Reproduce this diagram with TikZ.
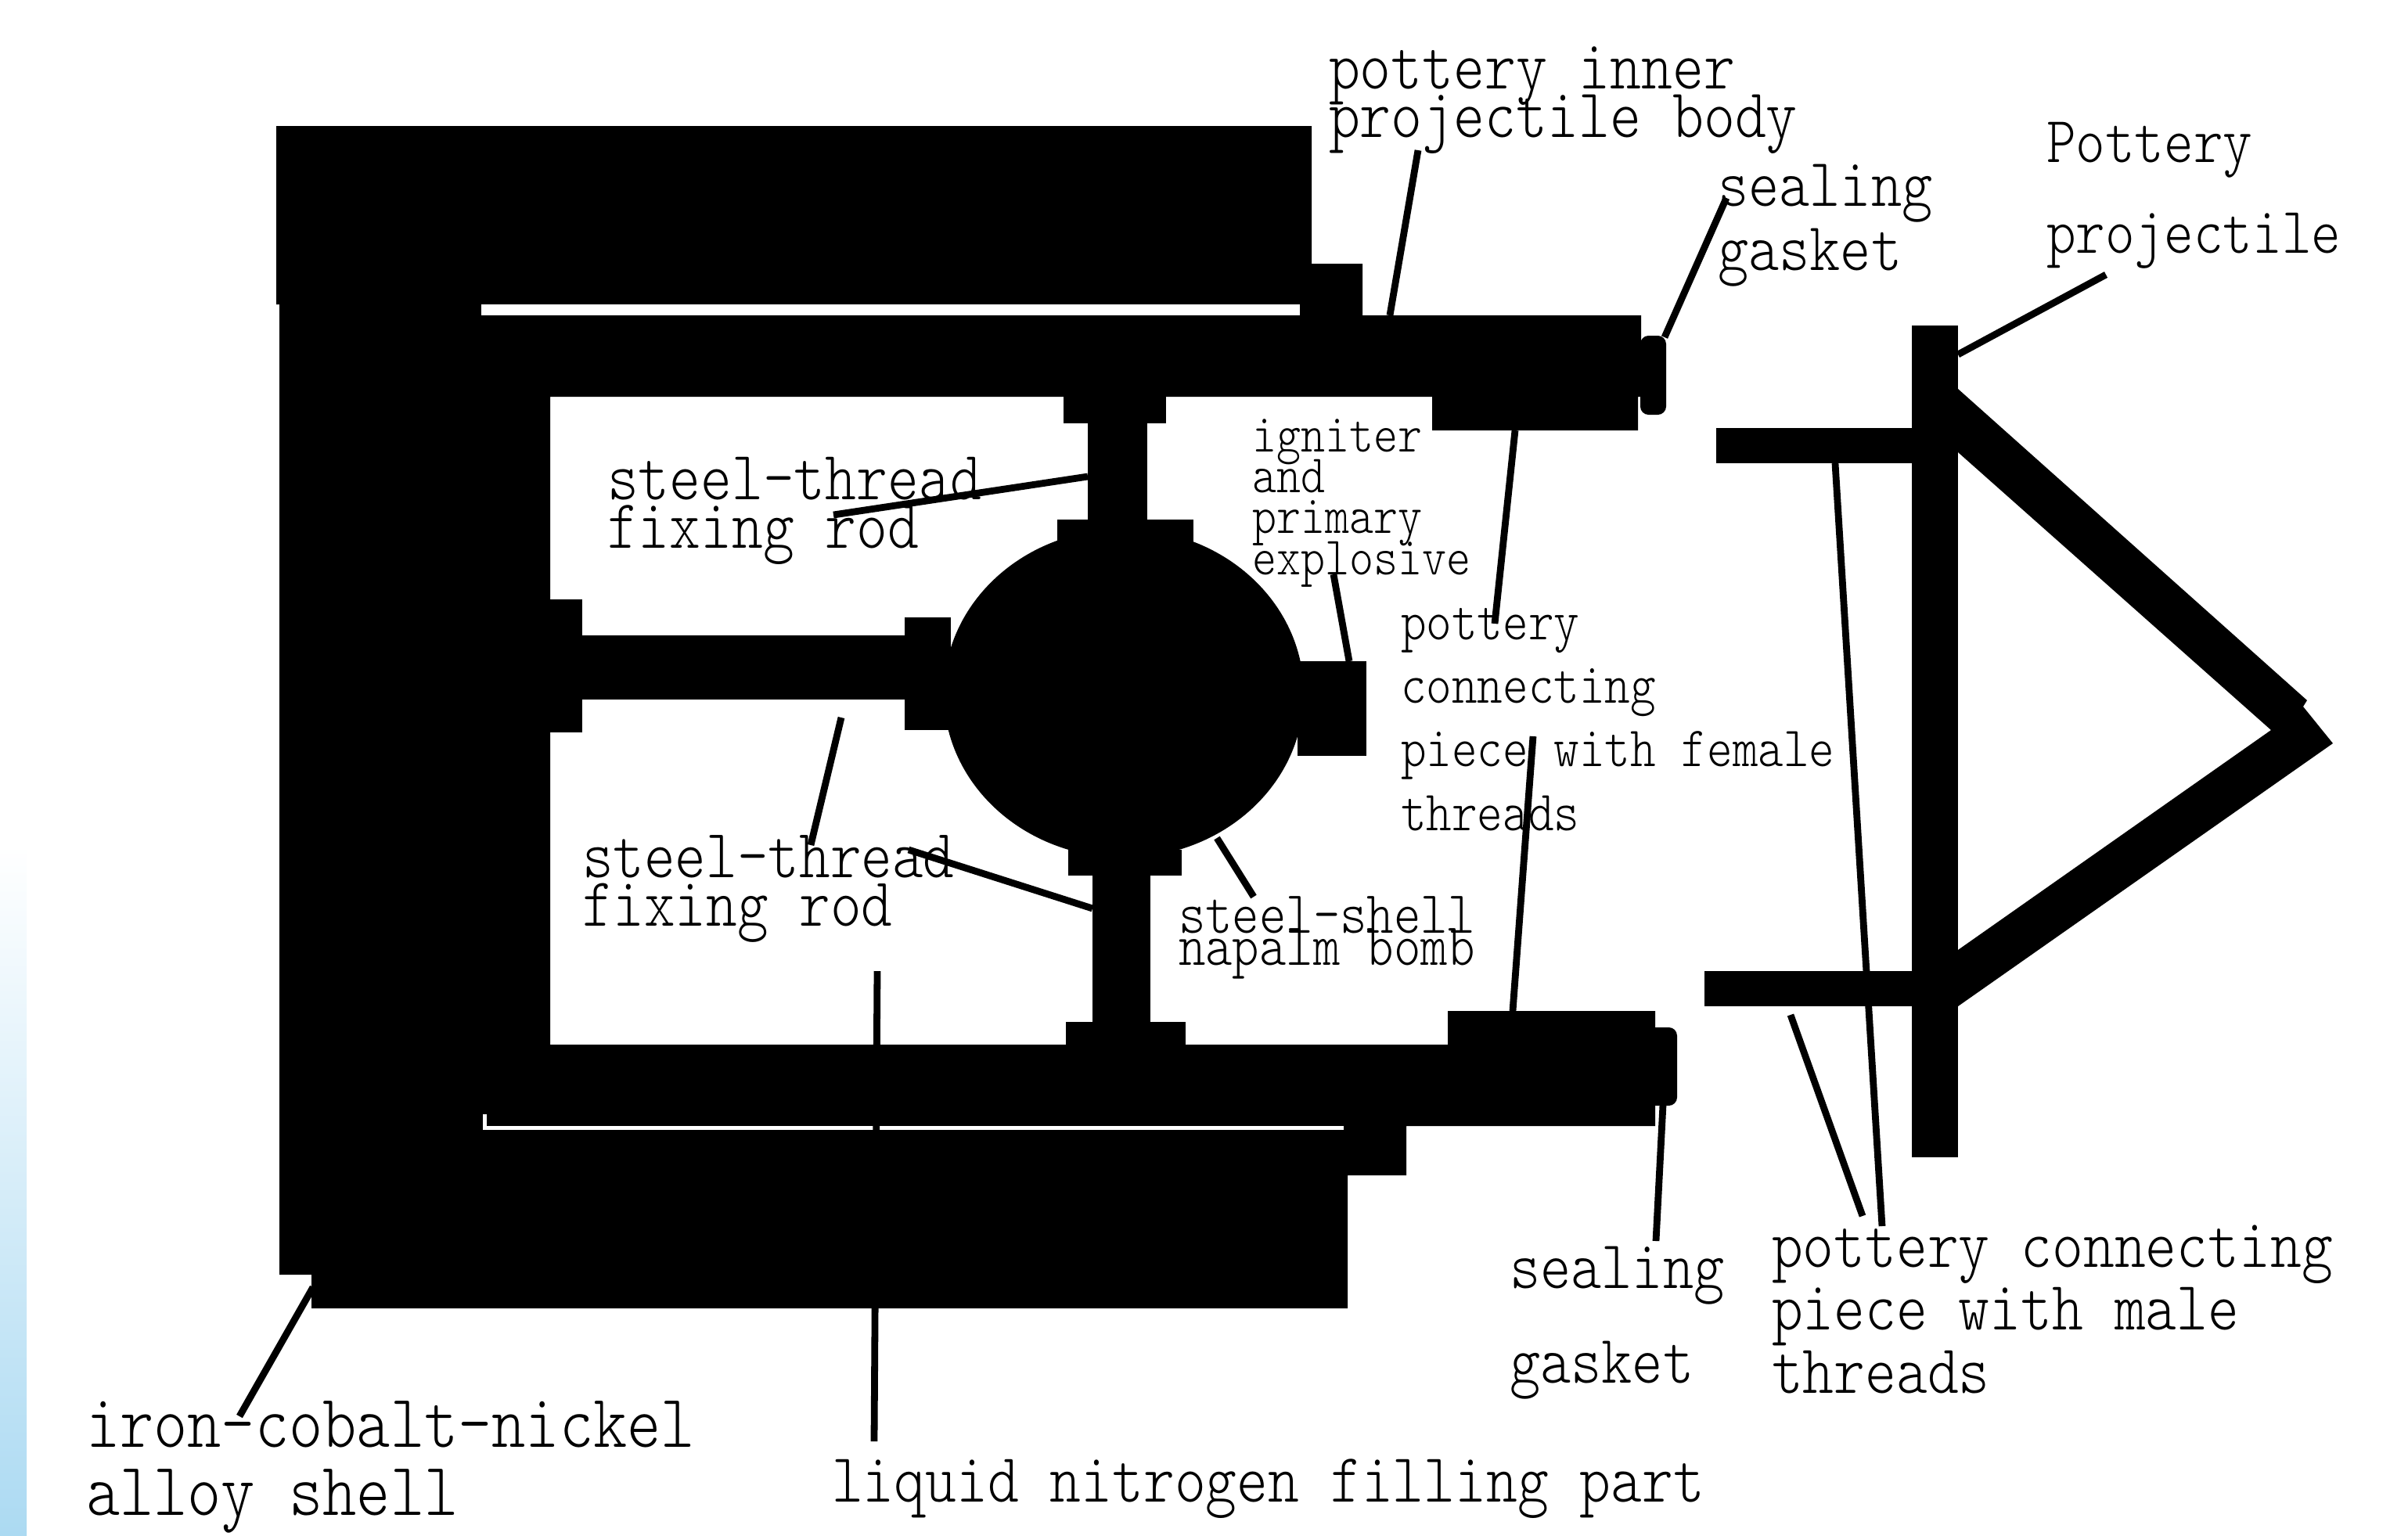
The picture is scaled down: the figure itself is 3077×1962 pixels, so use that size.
\documentclass[tikz,border=0pt]{standalone}
\usepackage{tikz}
\tikzstyle{part}=[fill=black]
\tikzstyle{gap}=[fill=white]
\tikzstyle{leader}=[draw,line width=2.5pt]
\newcommand{\lblnoskip}{\lineskiplimit=-100pt\relax}
\tikzset{lbl/.code 2 args={%
  \pgfmathsetmacro\lblskip{#2*0.28453*18.45/(1.17*#1)}%
  \tikzset{font=\ttfamily\fontseries{l}\fontsize{10}{\lblskip}\selectfont\lblnoskip,xscale=#1/18.45,yscale=1.17*#1/18.45,
    transform shape,align=left,anchor=base west,inner sep=0pt,outer sep=0pt}}}
\begin{document}
\begin{tikzpicture}[x=0.01cm,y=-0.01cm]
  \useasboundingbox (0,0) rectangle (3077,1962);
  \shade[top color=white,bottom color={rgb,255:red,172;green,218;blue,242}] (0,1080) rectangle (34,1962);
  % shell and inner body
  \fill[part] (353,161) -- (1676,161) -- (1676,337) -- (1741,337) -- (1741,403) -- (2097,403)
     -- (2097,507) -- (2093,507) -- (2093,550) -- (1830,550) -- (1830,507) -- (703,507) -- (703,1335) -- (1850,1335)
     -- (1850,1292) -- (2115,1292) -- (2115,1439) -- (1797,1439) -- (1797,1502) -- (1722,1502)
     -- (1722,1672) -- (398,1672) -- (398,1629) -- (357,1629) -- (357,389) -- (353,389) -- cycle;
  \fill[gap] (615,389) rectangle (1661,403);
  \fill[gap] (617,1424) rectangle (622,1444);
  \fill[gap] (617,1439) rectangle (1717,1444);
  % gaskets
  \fill[part,rounded corners=3pt] (2096,429) rectangle (2129,530);
  \fill[part,rounded corners=3pt] (2105,1313) rectangle (2143,1413);
  % rods and bomb
  \fill[part] (1436,886) ellipse [x radius=230,y radius=210];
  \fill[part] (703,766) rectangle (744,936);
  \fill[part] (703,812) rectangle (1200,894);
  \fill[part] (1156,789) rectangle (1215,933);
  \fill[part] (1359,507) rectangle (1490,541);
  \fill[part] (1390,507) rectangle (1466,700);
  \fill[part] (1351,664) rectangle (1525,692);
  \fill[part] (1365,1086) rectangle (1510,1119);
  \fill[part] (1396,1100) rectangle (1470,1335);
  \fill[part] (1362,1306) rectangle (1515,1335);
  \fill[part] (1658,845) rectangle (1746,966);
  % pottery projectile
  \fill[part] (2443,416) rectangle (2502,1479);
  \fill[part] (2193,547) rectangle (2443,592);
  \fill[part] (2178,1241) rectangle (2443,1286);
  \fill[part] (2502,497) -- (2948,895) -- (2943,903) -- (2981,950) -- (2502,1286)
     -- (2502,1214) -- (2902,933) -- (2502,578) -- cycle;
  % labels
  \node[lbl={39.9}{61}] (innerBody) at (1698,175) {pottery inner\\projectile body};
  \node[lbl={39.2}{81}] (gasketTop) at (2195,345) {sealing\\gasket};
  \node[lbl={37.6}{115}] (projectile) at (2615,323) {Pottery\\projectile};
  \node[lbl={31}{52}] (igniter) at (1600,734) {igniter\\and\\primary\\explosive};
  \node[lbl={32.6}{81}] (femalePiece) at (1790,1061) {pottery\\connecting\\piece with female\\threads};
  \node[lbl={39.8}{61}] (rodTop) at (776,700) {steel-thread\\fixing rod};
  \node[lbl={39.6}{61}] (rodLow) at (744,1183) {steel-thread\\fixing rod};
  \node[lbl={34.4}{41}] (bomb) at (1506,1233) {steel-shell\\napalm bomb};
  \node[lbl={39.2}{120}] (gasketLow) at (1929,1767) {sealing\\gasket};
  \node[lbl={39.8}{80}] (malePiece) at (2264,1780) {pottery connecting\\piece with male\\threads};
  \node[lbl={43.2}{86}] (alloyShell) at (110,1936) {iron-cobalt-nickel\\alloy shell};
  \node[lbl={39.8}{60}] (nitrogen) at (1063,1919) {liquid nitrogen filling part};
  % leaders
  \coordinate (innerBodyA) at (1812,192); \coordinate (innerBodyB) at (1776,403);
  \draw[leader] (innerBodyA) -- (innerBodyB);
  \coordinate (gasketTopA) at (2206,253); \coordinate (gasketTopB) at (2127,431);
  \draw[leader] (gasketTopA) -- (gasketTopB);
  \coordinate (projectileA) at (2691,351); \coordinate (projectileB) at (2502,453);
  \draw[leader] (projectileA) -- (projectileB);
  \coordinate (femaleTopA) at (1936,550); \coordinate (femaleTopB) at (1910,797);
  \draw[leader] (femaleTopA) -- (femaleTopB);
  \coordinate (igniterA) at (1704,734); \coordinate (igniterB) at (1724,845);
  \draw[leader] (igniterA) -- (igniterB);
  \coordinate (femaleLowA) at (1959,941); \coordinate (femaleLowB) at (1933,1292);
  \draw[leader] (femaleLowA) -- (femaleLowB);
  \coordinate (maleTopA) at (2345,592); \coordinate (maleTopB) at (2405,1567);
  \draw[leader] (maleTopA) -- (maleTopB);
  \coordinate (maleLowA) at (2288,1297); \coordinate (maleLowB) at (2380,1554);
  \draw[leader] (maleLowA) -- (maleLowB);
  \coordinate (gasketLowA) at (2125,1412); \coordinate (gasketLowB) at (2116,1586);
  \draw[leader] (gasketLowA) -- (gasketLowB);
  \coordinate (bombA) at (1555,1071); \coordinate (bombB) at (1602,1146);
  \draw[leader] (bombA) -- (bombB);
  \coordinate (rodTopA) at (1065,658); \coordinate (rodTopB) at (1390,609);
  \draw[leader] (rodTopA) -- (rodTopB);
  \coordinate (rodLeftA) at (1075,917); \coordinate (rodLeftB) at (1036,1080);
  \draw[leader] (rodLeftA) -- (rodLeftB);
  \coordinate (rodLowA) at (1161,1086); \coordinate (rodLowB) at (1396,1161);
  \draw[leader] (rodLowA) -- (rodLowB);
  \coordinate (nitrogenA) at (1121,1241); \coordinate (nitrogenB) at (1117,1842);
  \draw[leader] (nitrogenA) -- (nitrogenB);
  \coordinate (alloyA) at (400,1645); \coordinate (alloyB) at (306,1810);
  \draw[leader] (alloyA) -- (alloyB);
\end{tikzpicture}
\end{document}
